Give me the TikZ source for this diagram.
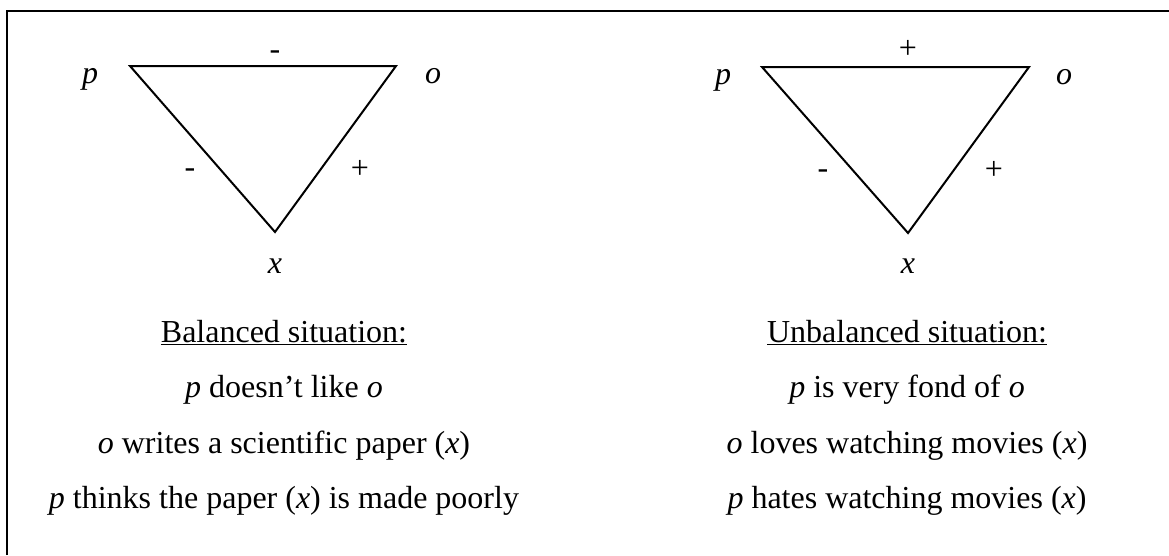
\documentclass[tikz,border=0pt]{standalone}
\usepackage{fontspec}
\setmainfont{Liberation Serif}
\begin{document}
\begin{tikzpicture}[x=1pt,y=-1pt,
  txt/.style={inner sep=0pt,anchor=base,font=\fontsize{32}{38}\selectfont},
  vlabel/.style={txt,font=\fontsize{32}{38}\selectfont\itshape},
  sign/.style={txt},
  edge/.style={line width=2pt,line join=miter},
  frame/.style={line width=2.5pt}]
\useasboundingbox (0,0) rectangle (1169,555);
% frame
\coordinate (fa) at (7,555);
\coordinate (fb) at (7,11);
\coordinate (fc) at (1169,11);
\draw[frame] (fa) -- (fb) -- (fc);
% left triangle
\coordinate (P1) at (130,66);
\coordinate (O1) at (396,66);
\coordinate (X1) at (275,232);
\draw[edge] (P1) -- (O1) -- (X1) -- cycle;
\node[vlabel] (lp1) at (90,83) {p};
\node[vlabel] (lo1) at (433,83) {o};
\node[vlabel] (lx1) at (275,273) {x};
\node[sign] (s1a) at (275,59) {-};
\node[sign] (s1b) at (190,177) {-};
\node[sign] (s1c) at (360,178) {+};
% right triangle
\coordinate (P2) at (762,67);
\coordinate (O2) at (1029,67);
\coordinate (X2) at (908,233);
\draw[edge] (P2) -- (O2) -- (X2) -- cycle;
\node[vlabel] (lp2) at (723,84) {p};
\node[vlabel] (lo2) at (1064,84) {o};
\node[vlabel] (lx2) at (908,273) {x};
\node[sign] (s2a) at (908,58) {+};
\node[sign] (s2b) at (823,178) {-};
\node[sign] (s2c) at (994,179) {+};
% left text
\node[txt] (t1a) at (284,342) {\underline{Balanced situation:}};
\node[txt] (t1b) at (284,397) {\textit{p} doesn’t like \textit{o}};
\node[txt] (t1c) at (284,453) {\textit{o} writes a scientific paper (\textit{x})};
\node[txt] (t1d) at (284,508) {\textit{p} thinks the paper (\textit{x}) is made poorly};
% right text
\node[txt] (t2a) at (907,342) {\underline{Unbalanced situation:}};
\node[txt] (t2b) at (907,397) {\textit{p} is very fond of \textit{o}};
\node[txt] (t2c) at (907,453) {\textit{o} loves watching movies (\textit{x})};
\node[txt] (t2d) at (907,508) {\textit{p} hates watching movies (\textit{x})};
\end{tikzpicture}
\end{document}
